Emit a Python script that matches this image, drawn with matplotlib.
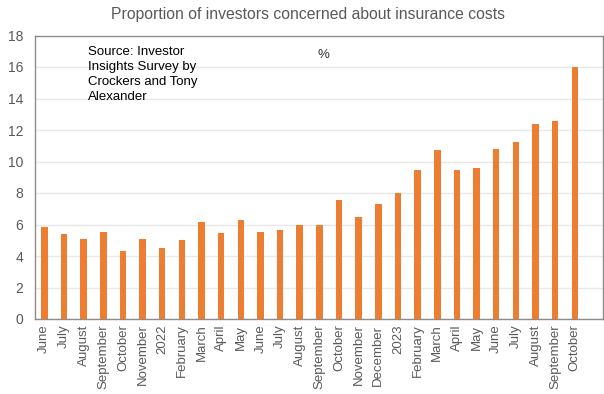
import matplotlib.pyplot as plt
import numpy as np

plt.rcParams['font.family'] = ['Liberation Sans', 'DejaVu Sans']

months = ["June", "July", "August", "September", "October", "November", "2022",
          "February", "March", "April", "May", "June", "July", "August", "September",
          "October", "November", "December", "2023", "February", "March", "April",
          "May", "June", "July", "August", "September", "October"]
values = [5.83, 5.4, 5.08, 5.55, 4.3, 5.08, 4.49, 5.0, 6.16, 5.48, 6.31, 5.55,
          5.63, 5.99, 5.95, 7.54, 6.5, 7.29, 7.99, 9.49, 10.74, 9.45, 9.57, 10.82,
          11.25, 12.41, 12.54, 16.0]
yticks = [0, 2, 4, 6, 8, 10, 12, 14, 16, 18]

fig = plt.figure(figsize=(6.04, 3.94), dpi=100)
ax = fig.add_axes([34.5 / 604, 1 - 319 / 394, (602.7 - 34.5) / 604, (319 - 35.5) / 394])

x = np.arange(len(values))
ax.bar(x, values, width=0.33, color='#ED7D31', zorder=3)

ax.set_xlim(-0.5, 28.42)
ax.set_ylim(0, 18)
ax.set_yticks(yticks)
ax.set_xticks(x)
ax.set_xticklabels(months, rotation=90, fontsize=9.5, color='#595959')
ax.tick_params(axis='y', labelsize=10, labelcolor='#595959', length=0, pad=8)
ax.tick_params(axis='x', length=0, pad=4)
ax.grid(axis='y', color='#E8E8E8', linewidth=1, zorder=0)
for s in ['top', 'right', 'left', 'bottom']:
    ax.spines[s].set_color('#8C8C8C')
    ax.spines[s].set_linewidth(1)

fig.text(308 / 604, 1 - 14 / 394, "Proportion of investors concerned about insurance costs",
         ha='center', va='center', fontsize=11.3, color='#595959')
fig.text(88 / 604, 1 - 46 / 394, "Source: Investor\nInsights Survey by\nCrockers and Tony\nAlexander",
         fontsize=9.5, color='#000000', va='top', ha='left', linespacing=1.34)
fig.text(317 / 604, 1 - 55 / 394, "%", fontsize=9.5, color='#333333', va='center', ha='left')

fig.savefig('out.png', dpi=100)
